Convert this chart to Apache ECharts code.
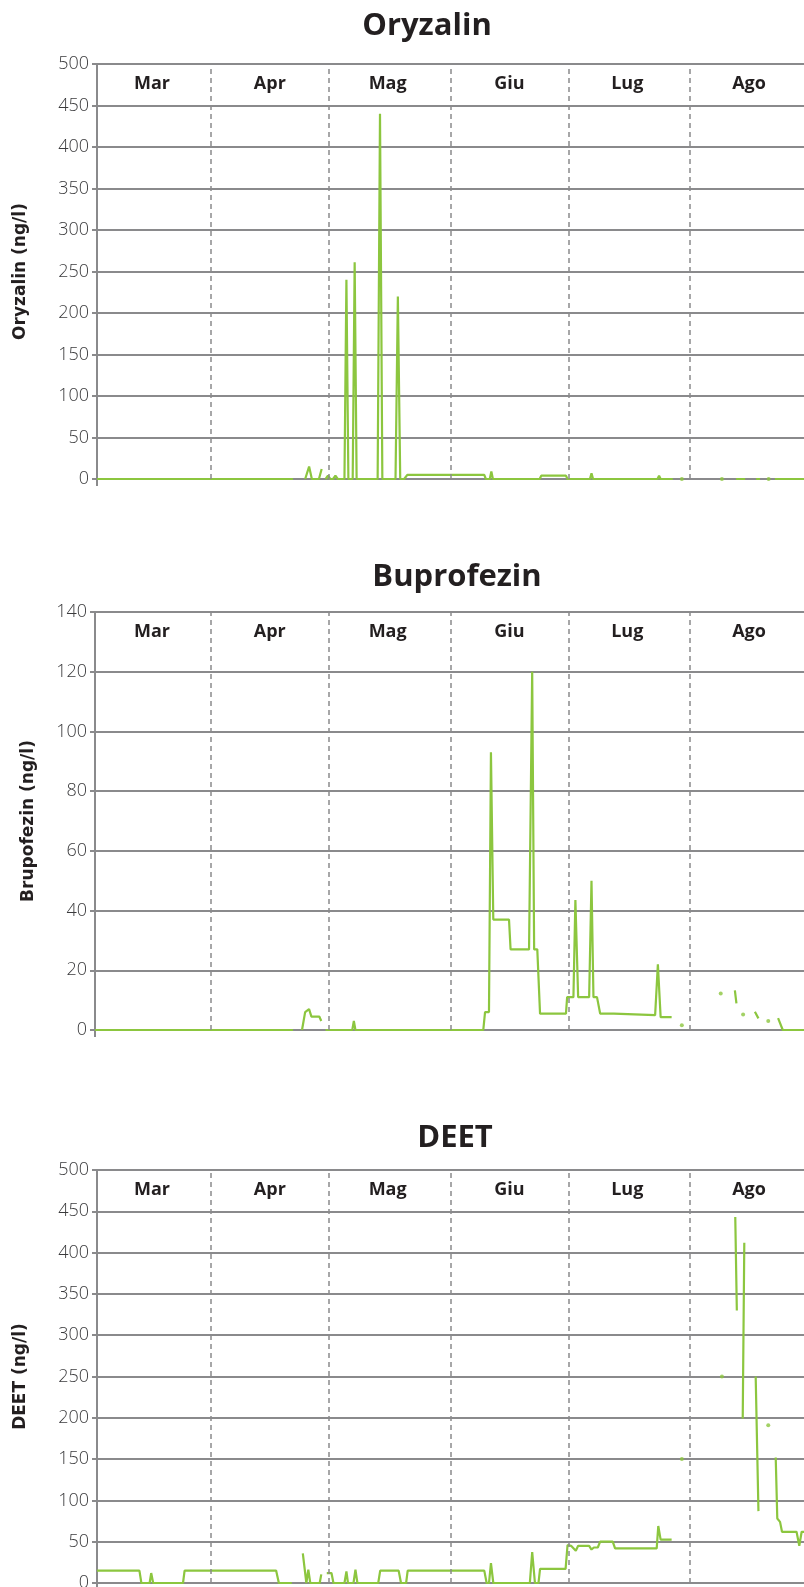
<!DOCTYPE html>
<html>
<head>
<meta charset="utf-8">
<title>Oryzalin, Buprofezin, DEET</title>
<script src="https://cdn.jsdelivr.net/npm/echarts@6/dist/echarts.min.js"></script>
<style>
  html, body { margin: 0; padding: 0; background: #fff; }
  #chart { width: 804px; height: 1587px; }
</style>
</head>
<body>
<div id="chart"></div>
<script>
// x = days counted from 1 March (0 = 1 Mar), null = no sample
const monthNames = ['Mar', 'Apr', 'Mag', 'Giu', 'Lug', 'Ago'];
const monthCenters = [16, 46, 76, 107, 137, 168];
const monthStarts = [31, 61, 92, 122, 153];
const dayMax = 182;

const oryzalinLine = [
  [2, 0], [51.9, 0], [53, null],
  [55, 0], [56, 15], [56.7, 0], [58.5, 0], [59.2, 12], [59.7, null],
  [60.2, 0], [60.8, 4], [61.4, 0], [62.1, 0], [62.7, 4], [63.3, 0],
  [65.0, 0], [65.5, 240], [66.0, 0], [67.1, 0], [67.6, 261], [68.1, 0],
  [73.45, 0], [74.05, 440], [74.65, 0], [78.0, 0], [78.6, 220], [79.2, 0],
  [80.2, 0], [81, 5], [100.6, 5], [101, 0], [102, 0], [102.4, 9], [102.8, 0],
  [114.7, 0], [115.1, 4], [121.4, 4], [121.8, 0],
  [127.5, 0], [127.9, 7], [128.3, 0], [144.7, 0], [145.1, 4], [145.5, 0], [148.6, 0], [149.5, null],
  [164.7, 0], [167, 0], [168, null],
  [169.8, 0], [170.8, 0], [171.5, null],
  [174.6, 0], [182, 0]
];
const oryzalinDots = [[150.9, 0], [161.1, 0], [173, 0]];

const buprofezinLine = [
  [1.5, 0], [51.9, 0], [53, null],
  [54.2, 0], [55, 6], [56, 7], [56.6, 4.5], [58.6, 4.5], [59.1, 3], [59.6, null],
  [60.2, 0], [67, 0], [67.4, 3], [67.8, 0],
  [100.35, 0], [100.8, 6], [101.8, 6], [102.3, 93], [102.9, 37], [106.9, 37], [107.3, 27],
  [112.0, 27], [112.8, 120], [113.3, 27], [114.1, 27], [114.8, 5.5], [121.4, 5.5], [121.7, 11],
  [123.3, 11], [123.8, 43.5], [124.5, 11], [127.3, 11], [127.9, 50], [128.4, 11], [129.3, 11],
  [130.1, 5.5], [133.6, 5.5], [134, 5], [144.1, 5], [144.8, 22], [145.5, 4.3], [148.3, 4.3], [149, null],
  [164.4, 13.3], [164.8, 8.9], [165.2, null],
  [169.5, 6.1], [170.4, 3.9], [171, null],
  [175.4, 4], [175.8, 4.5], [176.6, 0], [182, 0]
];
const buprofezinDots = [[150.9, 1.6], [160.8, 12.2], [166.5, 5.2], [172.9, 3.0]];

const deetLine = [
  [2, 15], [12.8, 15], [13.3, 0], [15.4, 0], [15.8, 12], [16.3, 0], [23.9, 0], [24.3, 15],
  [47.6, 15], [48.3, 0], [51.6, 0], [53, null],
  [54.4, 36], [55.3, 0], [55.8, 16], [56.3, 0], [58.7, 0], [59.1, 10.5], [59.6, null],
  [60.5, 12], [61.7, 12], [62.2, 0], [65.0, 0], [65.5, 14], [65.9, 0], [67.3, 0], [67.8, 16], [68.3, 0],
  [73.6, 0], [74.1, 15], [78.8, 15], [79.4, 0], [80.7, 0], [81.1, 15], [100.6, 15], [101.2, 0],
  [101.8, 0], [102.3, 24], [102.9, 0], [112.2, 0], [112.8, 37.5], [113.5, 0], [114.4, 0], [114.8, 17],
  [121.3, 17], [121.8, 46], [122.7, 45], [123.9, 39], [124.5, 45], [127.3, 45], [127.9, 40.5],
  [128.5, 43], [129.5, 43], [130.1, 50], [133.3, 50], [133.9, 42], [144.5, 42], [144.9, 69],
  [145.5, 52.5], [148.3, 52.5], [149, null],
  [164.5, 443], [164.9, 330], [165.5, null],
  [166.4, 199], [166.8, 412], [167.5, null],
  [169.7, 250], [170.4, 87], [171, null],
  [174.8, 152], [175.2, 78], [175.9, 74], [176.4, 62], [180.1, 62], [180.8, 45], [181.4, 62], [182, 62]
];
const deetDots = [[150.9, 150], [161.1, 250], [172.9, 191]];

const GRID = '#8a8a8c';
const GREEN = '#8cc63f';
const INK = '#231f20';

const panels = [
  { title: 'Oryzalin', yName: 'Oryzalin (ng/l)', yMax: 500, yStep: 50, line: oryzalinLine, dots: oryzalinDots,
    left: 97, xMin: 2, top: 64, height: 415, titleX: 427, titleTop: 8, nameGap: 68 },
  { title: 'Buprofezin', yName: 'Brupofezin (ng/l)', yMax: 140, yStep: 20, line: buprofezinLine, dots: buprofezinDots,
    left: 95, xMin: 1.5, top: 612, height: 418, titleX: 457, titleTop: 559, nameGap: 58 },
  { title: 'DEET', yName: 'DEET (ng/l)', yMax: 500, yStep: 50, line: deetLine, dots: deetDots,
    left: 97, xMin: 2, top: 1170, height: 413, titleX: 455, titleTop: 1120, nameGap: 68 }
];

const option = { animation: false, title: [], grid: [], xAxis: [], yAxis: [], series: [] };

panels.forEach((p, i) => {
  option.title.push({
    text: p.title, left: p.titleX, top: p.titleTop, textAlign: 'center', padding: 0,
    textStyle: { fontFamily: 'Open Sans', fontWeight: 'bold', fontSize: 31, lineHeight: 36, color: INK }
  });
  option.grid.push({ left: p.left, right: 0, top: p.top, height: p.height, containLabel: false, outerBoundsMode: 'none' });
  // bottom axis: only the small tick at the start
  option.xAxis.push({
    type: 'value', gridIndex: i, min: p.xMin, max: dayMax,
    axisLine: { show: false }, splitLine: { show: false }, axisLabel: { show: false },
    axisTick: { show: true, customValues: [p.xMin], length: 7, lineStyle: { color: GRID, width: 2 } }
  });
  // top axis carries the month names inside the plot
  option.xAxis.push({
    type: 'value', gridIndex: i, position: 'top', min: p.xMin, max: dayMax,
    axisLine: { show: false }, axisTick: { show: false }, splitLine: { show: false },
    axisLabel: {
      inside: true, margin: 11, customValues: monthCenters,
      formatter: v => monthNames[monthCenters.indexOf(v)],
      fontFamily: 'Open Sans', fontWeight: 'bold', fontSize: 18, color: INK
    }
  });
  option.yAxis.push({
    type: 'value', gridIndex: i, min: 0, max: p.yMax, interval: p.yStep,
    name: p.yName, nameLocation: 'middle', nameGap: p.nameGap, nameRotate: 90,
    nameTextStyle: { fontFamily: 'DejaVu Sans', fontWeight: 'bold', fontSize: 17, color: INK },
    axisLine: { show: true, lineStyle: { color: GRID, width: 2 } },
    axisTick: { show: true, length: 5, lineStyle: { color: GRID, width: 2 } },
    splitLine: { show: true, lineStyle: { color: GRID, width: 2 } },
    axisLabel: { margin: 8, fontFamily: 'Open Sans', fontWeight: 300, fontSize: 18, color: '#3a3a3c' }
  });
  option.series.push({
    type: 'line', xAxisIndex: 2 * i, yAxisIndex: i,
    data: p.line.map(d => [d[0], d[1] === null ? '-' : d[1]]),
    showSymbol: false, connectNulls: false, z: 3,
    lineStyle: { color: GREEN, width: 2.2 }, itemStyle: { color: GREEN },
    markLine: {
      silent: true, symbol: ['none', 'none'], label: { show: false },
      lineStyle: { color: GRID, type: [5, 4], width: 1.5 },
      data: monthStarts.map(x => ({ xAxis: x }))
    }
  });
  option.series.push({
    type: 'scatter', xAxisIndex: 2 * i, yAxisIndex: i, data: p.dots,
    symbolSize: 4, itemStyle: { color: GREEN }, z: 3
  });
});

const chart = echarts.init(document.getElementById('chart'));
chart.setOption(option);
window.addEventListener('resize', () => chart.resize());
</script>
</body>
</html>
